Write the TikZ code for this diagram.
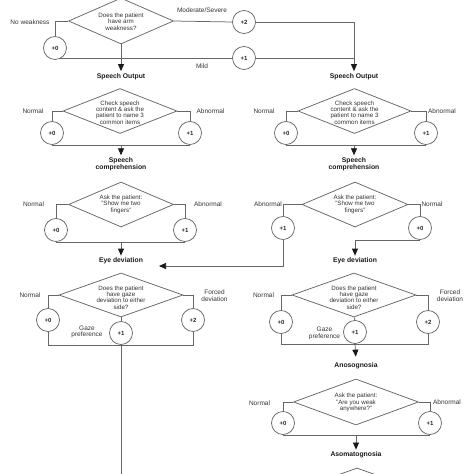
\documentclass[tikz,border=0pt]{standalone}
\usepackage{fontspec}
\setmainfont{Liberation Sans}
\usetikzlibrary{shapes.geometric,arrows.meta,backgrounds}
\begin{document}
\begin{tikzpicture}[x=1pt,y=-1pt,
  conn/.style={draw=black!60, line width=0.75pt},
  arr/.style={conn, -{Triangle[width=6pt,length=7pt,color=black!90]}},
  dia/.style={diamond, draw=black!60, line width=0.75pt, inner sep=0pt, minimum width=#1, minimum height=45pt},
  dtext/.style={align=center, font=\fontsize{6.2}{6.4}\selectfont, text=black!80, inner sep=0pt},
  lab/.style={align=center, font=\fontsize{6.5}{6.8}\selectfont, text=black!80, inner sep=0pt},
  head/.style={align=center, font=\bfseries\fontsize{6.8}{6.6}\selectfont, text=black!90, inner sep=2pt},
  sc/.style={circle, draw=black!60, line width=0.75pt, fill=white, minimum size=23pt, inner sep=0pt, font=\bfseries\fontsize{6}{6}\selectfont, text=black!85}
]
\useasboundingbox (0,0) rectangle (474,474);
\clip (0,0) rectangle (474,474);

% ---------- top: arm weakness ----------
\node[dia=105pt, minimum height=46pt] (d0) at (121,21) {};
\node[dtext] at (121,21.5) {Does the patient\\have arm\\weakness?};
\node[sc] (p00) at (55,48) {+0};
\node[sc] (p02) at (244,22) {+2};
\node[sc] (p01) at (244,58) {+1};
\node[lab] at (30,22) {No weakness};
\node[lab] at (202,10) {Moderate/Severe};
\node[lab] at (202,66) {Mild};
\node[head] (so1) at (121,76.5) {Speech Output};
\node[head] (so2) at (354,76.5) {Speech Output};

% ---------- speech output ----------
\node[dia=114pt] (d1) at (120,111) {};
\node[dtext] at (120,112.5) {Check speech\\content \& ask the\\patient to name 3\\common items};
\node[sc] (p10) at (52,133) {+0};
\node[sc] (p11) at (190,133) {+1};
\node[lab] at (33,111) {Normal};
\node[lab] at (210.5,111) {Abnormal};

\node[dia=113pt] (d1r) at (354.5,111) {};
\node[dtext] at (354.5,112.5) {Check speech\\content \& ask the\\patient to name 3\\common items};
\node[sc] (p10r) at (286,133) {+0};
\node[sc] (p11r) at (426,133) {+1};
\node[lab] at (264,111) {Normal};
\node[lab] at (442,111) {Abnormal};

\node[head] (sc1) at (121,164) {Speech\\comprehension};
\node[head] (sc2) at (354,164) {Speech\\comprehension};

% ---------- speech comprehension ----------
\node[dia=105pt] (d2) at (121,204.5) {};
\node[dtext] at (121,204.3) {Ask the patient:\\"Show me two\\fingers"};
\node[sc] (p20) at (56,230) {+0};
\node[sc] (p21) at (185,230) {+1};
\node[lab] at (33.5,204) {Normal};
\node[lab] at (208,204) {Abnormal};

\node[dia=106pt] (d2r) at (355,204.5) {};
\node[dtext] at (355,204.3) {Ask the patient:\\"Show me two\\fingers"};
\node[sc] (p21r) at (283,228) {+1};
\node[sc] (p20r) at (420,228) {+0};
\node[lab] at (268,204) {Abnormal};
\node[lab] at (432,204) {Normal};

\node[head] (ed1) at (121,261) {Eye deviation};
\node[head] (ed2) at (355,261) {Eye deviation};
\coordinate (eyein) at (159,266);

% ---------- eye deviation ----------
\node[dia=124pt, minimum height=44pt] (d3) at (121,295) {};
\node[dtext] at (121,297.5) {Does the patient\\have gaze\\deviation to either\\side?};
\node[sc] (p30) at (48,320) {+0};
\node[sc] (p32) at (193,320) {+2};
\node[sc] (p31) at (121,333) {+1};
\node[lab] at (30,295) {Normal};
\node[lab] at (214.5,295.5) {Forced\\deviation};
\node[lab] at (87,332) {Gaze\\preference};
\coordinate (endL) at (121,480);

\node[dia=124pt, minimum height=44pt] (d3r) at (354,295) {};
\node[dtext] at (354,297.5) {Does the patient\\have gaze\\deviation to either\\side?};
\node[sc] (p30r) at (281,322) {+0};
\node[sc] (p32r) at (428,322) {+2};
\node[sc] (p31r) at (355,332) {+1};
\node[lab] at (263.5,295) {Normal};
\node[lab] at (450,295.5) {Forced\\deviation};
\node[lab] at (324.5,333.5) {Gaze\\preference};

\node[head] (ano) at (356,366) {Anosognosia};

% ---------- anosognosia ----------
\node[dia=125pt, minimum height=46pt] (d4) at (356,402) {};
\node[dtext] at (356,402.5) {Ask the patient:\\"Are you weak\\anywhere?"};
\node[sc] (p40) at (283,423) {+0};
\node[sc] (p41) at (430,423) {+1};
\node[lab] at (259.5,403) {Normal};
\node[lab] at (447,402) {Abnormal};

\node[head] (aso) at (356,455) {Asomatognosia};
\node[dia=124pt, minimum height=44pt] (d5) at (357,490) {};

% ---------- connectors ----------
\begin{scope}[on background layer]
\draw[conn] (d0.west) -| (p00.north);
\draw[conn] (d0.east) -- (p02.west);
\draw[conn] (p00.center |- p01.west) -- (p01.west);
\draw[arr] (d0.south) -- (so1.north);
\draw[arr] (p02.east) -| (so2.north);
\draw[conn] (p01.east) -- (p01.east -| so2.north);

\draw[conn] (d1.west) -| (p10.north);
\draw[conn] (d1.east) -| (p11.north);
\draw[conn] (p10.south) -- (p11.south);
\draw[arr] (sc1.north |- p10.south) -- (sc1.north);

\draw[conn] (d1r.west) -| (p10r.north);
\draw[conn] (d1r.east) -| (p11r.north);
\draw[conn] (p10r.south) -- (p11r.south);
\draw[arr] (sc2.north |- p10r.south) -- (sc2.north);

\draw[conn] (d2.west) -| (p20.north);
\draw[conn] (d2.east) -| (p21.north);
\draw[conn] (p20.south) -- (p21.south);
\draw[arr] (ed1.north |- p20.south) -- (ed1.north);

\draw[conn] (d2r.west) -| (p21r.north);
\draw[conn] (d2r.east) -| (p20r.north);
\draw[arr] (p20r.south) -- (p20r.south -| ed2.north) -- (ed2.north);
\draw[arr] (p21r.south) |- (eyein);

\draw[conn] (d3.west) -| (p30.north);
\draw[conn] (d3.east) -| (p32.north);
\draw[conn] (d3.south) -- (p31.north);
\draw[conn] (p30.south) |- (p31.south) -| (p32.south);
\draw[conn] (p31.south) -- (endL);

\draw[conn] (d3r.west) -| (p30r.north);
\draw[conn] (d3r.east) -| (p32r.north);
\draw[conn] (d3r.south) -- (p31r.north);
\draw[conn] (p30r.south) |- (p31r.south) -| (p32r.south);
\draw[arr, shorten >=4pt] (p31r.south) -- (ano.north);

\draw[conn] (d4.west) -| (p40.north);
\draw[conn] (d4.east) -| (p41.north);
\draw[conn] (p40.south) -- (p41.south);
\draw[arr] (aso.north |- p40.south) -- (aso.north);
\end{scope}
\end{tikzpicture}
\end{document}
